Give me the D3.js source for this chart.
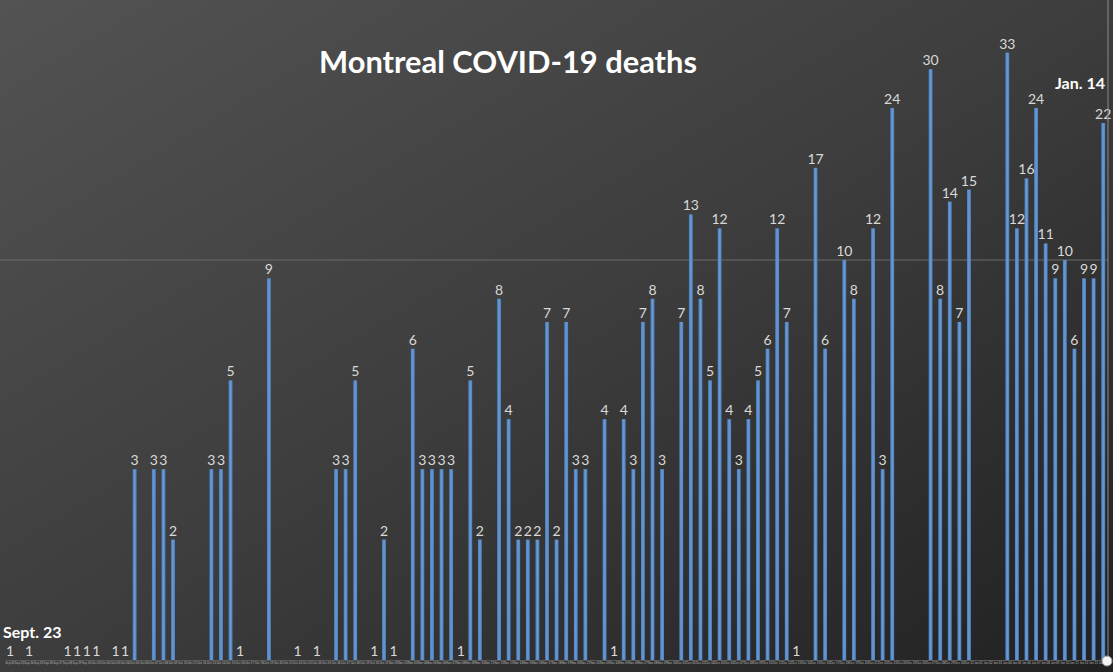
<!DOCTYPE html>
<html>
<head>
<meta charset="utf-8">
<script src="https://cdn.jsdelivr.net/npm/d3@7"></script>
<style>
  body { margin: 0; background: #333; }
  svg { display: block; }
</style>
</head>
<body>
<div id="my_dataviz"></div>
<script>
// daily deaths, one slot per day (0 = no value shown on the log axis)
const deaths = [
  1, 0, 1, 0, 0, 0, 1, 1, 1, 1,
  0, 1, 1, 3, 0, 3, 3, 2, 0, 0,
  0, 3, 3, 5, 1, 0, 0, 9, 0, 0,
  1, 0, 1, 0, 3, 3, 5, 0, 1, 2,
  1, 0, 6, 3, 3, 3, 3, 1, 5, 2,
  0, 8, 4, 2, 2, 2, 7, 2, 7, 3,
  3, 0, 4, 1, 4, 3, 7, 8, 3, 0,
  7, 13, 8, 5, 12, 4, 3, 4, 5, 6,
  12, 7, 1, 0, 17, 6, 0, 10, 8, 0,
  12, 3, 24, 0, 0, 0, 30, 8, 14, 7,
  15, 0, 0, 0, 33, 12, 16, 24, 11, 9,
  10, 6, 9, 9, 22
];
const startLabel = "Sept. 23";
const endLabel = "Jan. 14";
const titleText = "Montreal COVID-19 deaths";

// category labels, one per day
const days = d3.timeDay.range(new Date(2020, 8, 22), new Date(2021, 0, 15));
const fmt = d3.timeFormat("%b %d");
const categories = days.map(d => fmt(d));

const width = 1113, height = 672;

const svg = d3.select("#my_dataviz")
  .append("svg")
    .attr("width", width)
    .attr("height", height);

// background gradient
const defs = svg.append("defs");
const grad = defs.append("linearGradient")
  .attr("id", "bg")
  .attr("x1", "0").attr("y1", "0")
  .attr("x2", "1").attr("y2", "1");
grad.append("stop").attr("offset", "0%").attr("stop-color", "#535353");
grad.append("stop").attr("offset", "50%").attr("stop-color", "#3d3d3d");
grad.append("stop").attr("offset", "100%").attr("stop-color", "#212121");

const barGrad = defs.append("linearGradient")
  .attr("id", "bar")
  .attr("x1", "0").attr("x2", "1");
barGrad.append("stop").attr("offset", "0%").attr("stop-color", "#4a80c0");
barGrad.append("stop").attr("offset", "50%").attr("stop-color", "#6a9ad4");
barGrad.append("stop").attr("offset", "100%").attr("stop-color", "#4a80c0");

svg.append("rect")
  .attr("width", width)
  .attr("height", height)
  .attr("fill", "url(#bg)");

// scales
const x = d3.scaleBand()
  .domain(categories)
  .range([5.2, 1108])
  .paddingInner(0.6)
  .paddingOuter(0.3);

const y = d3.scaleLog()
  .domain([1, 100])
  .range([660, -140]);

// gridline at 10
svg.append("line")
  .attr("x1", 0).attr("x2", 1108)
  .attr("y1", y(10)).attr("y2", y(10))
  .attr("stroke", "#6a6a6a")
  .attr("stroke-width", 1);

// x axis with tiny date labels
const xAxis = svg.append("g")
  .attr("transform", `translate(0, ${y(1)})`)
  .call(d3.axisBottom(x).tickSize(0).tickPadding(2));
xAxis.select(".domain").attr("stroke", "#5a5a5a");
xAxis.selectAll("text")
  .attr("fill", "#b8b8b8")
  .style("font-size", "3px")
  .style("font-family", "Lato, sans-serif");

const data = deaths.map((v, i) => ({ cat: categories[i], value: v }))
  .filter(d => d.value > 0);

// Bars
svg.selectAll("rect.bar")
  .data(data)
  .join("rect")
    .attr("class", "bar")
    .attr("x", d => x(d.cat))
    .attr("y", d => y(d.value))
    .attr("width", x.bandwidth())
    .attr("height", d => y(1) - y(d.value))
    .attr("fill", "url(#bar)");

// value labels
svg.selectAll("text.val")
  .data(data)
  .join("text")
    .attr("class", "val")
    .attr("x", d => x(d.cat) + x.bandwidth() / 2)
    .attr("y", d => y(d.value) - 4)
    .attr("text-anchor", "middle")
    .attr("fill", "#d9d9d9")
    .style("font-family", "Lato, sans-serif")
    .style("font-size", "14px")
    .text(d => d.value);

// plot border on the right + handle
svg.append("line")
  .attr("x1", 1108).attr("x2", 1108)
  .attr("y1", 0).attr("y2", y(1))
  .attr("stroke", "#8a8a8a");
svg.append("circle")
  .attr("cx", 1107).attr("cy", 661)
  .attr("r", 5)
  .attr("fill", "#f4f4f4")
  .attr("stroke", "#9a9a9a");

// title
const title = svg.append("text")
  .attr("x", 508)
  .attr("y", 73)
  .attr("text-anchor", "middle")
  .attr("fill", "#ffffff")
  .style("font-family", "Lato, sans-serif")
  .style("font-weight", "bold")
  .style("font-size", "31px")
  .text(titleText);
const tw = title.node().getComputedTextLength();
title.style("font-size", (31 * 378 / tw) + "px");

// date annotations
svg.append("text")
  .attr("x", 3)
  .attr("y", 638)
  .attr("fill", "#ffffff")
  .style("font-family", "Lato, sans-serif")
  .style("font-weight", "bold")
  .style("font-size", "16px")
  .text(startLabel);

svg.append("text")
  .attr("x", 1105)
  .attr("y", 89)
  .attr("text-anchor", "end")
  .attr("fill", "#ffffff")
  .style("font-family", "Lato, sans-serif")
  .style("font-weight", "bold")
  .style("font-size", "16px")
  .text(endLabel);
</script>
</body>
</html>
